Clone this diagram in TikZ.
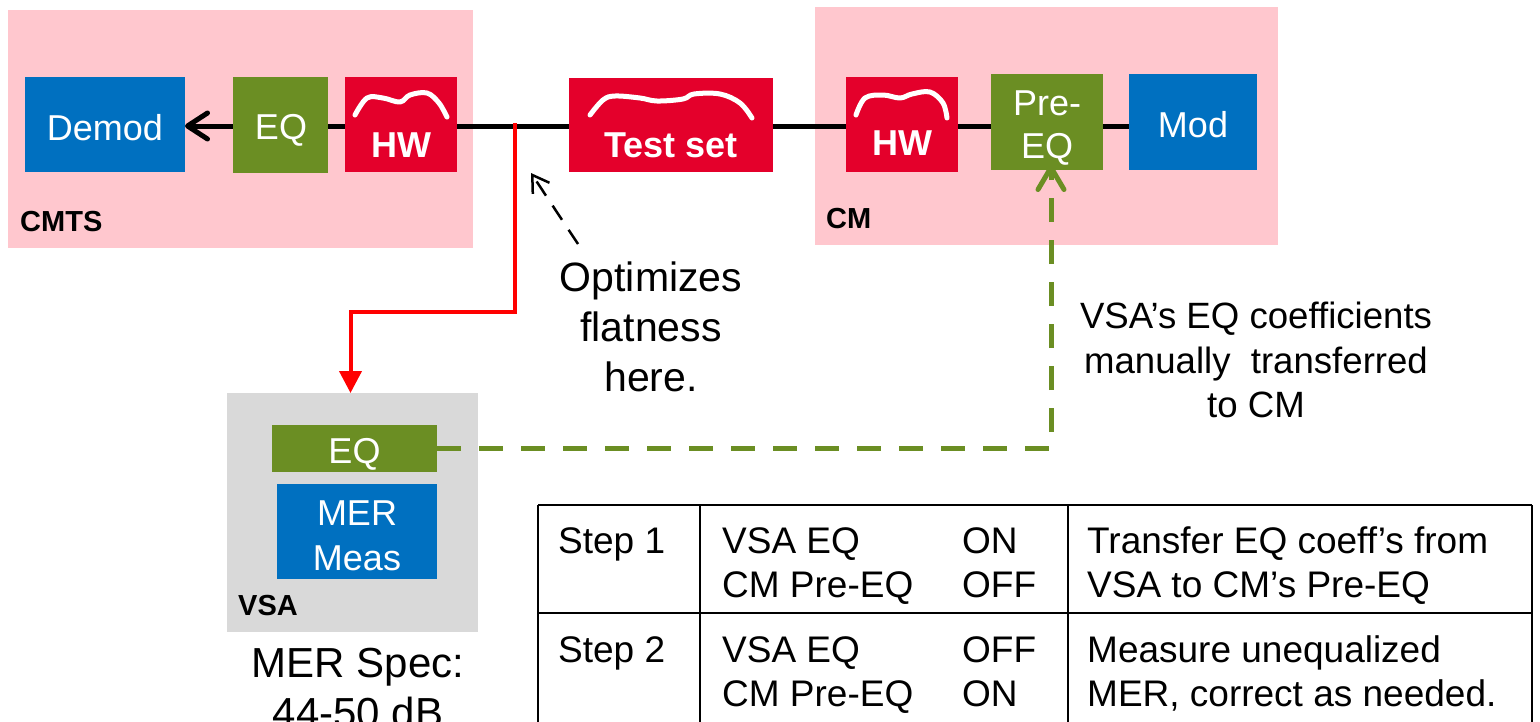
\documentclass[tikz,border=0pt]{standalone}
\usepackage{fontspec}
\setmainfont{Liberation Sans}
\usetikzlibrary{arrows.meta,calc}
\pgfdeclarelayer{zones}
\pgfdeclarelayer{wires}
\pgfsetlayers{zones,wires,main}
\definecolor{zonepink}{HTML}{FFC7CE}
\definecolor{blkblue}{HTML}{0070C0}
\definecolor{blkgreen}{HTML}{6B8E23}
\definecolor{blkred}{HTML}{E4002B}
\definecolor{vsagray}{HTML}{D9D9D9}
\definecolor{tapred}{HTML}{FF0000}
\newcommand{\boxfont}{\fontsize{36}{44}\selectfont}
\newcommand{\tabfont}{\fontsize{37}{44}\selectfont}
\begin{document}
\begin{tikzpicture}[x=1pt,y=-1pt,
  blk/.style={inner sep=0pt, outer sep=0pt, anchor=north west},
  blktext/.style={inner sep=0pt, anchor=base, text=white, font=\boxfont},
  zone/.style={inner sep=0pt, outer sep=0pt, anchor=north west},
  zonelabel/.style={inner sep=0pt, anchor=base west, font=\fontsize{29}{34}\selectfont\bfseries},
  hwlabel/.style={blktext, font=\boxfont\bfseries},
  squiggle/.style={white, line width=5pt, line cap=round, line join=round},
  mainwire/.style={line width=5pt, line cap=round},
  tapwire/.style={tapred, line width=4pt},
  xferwire/.style={blkgreen, line width=5pt, dash pattern=on 24pt off 18pt},
  notearrow/.style={line width=2.5pt, dash pattern=on 17pt off 12pt},
  note/.style={inner sep=0pt, align=center},
  tabtext/.style={inner sep=0pt, anchor=base west, font=\tabfont},
  grid/.style={line width=2pt}]
\useasboundingbox (0,0) rectangle (1540,721);

% equipment zones
\begin{pgfonlayer}{zones}
  \node[zone, fill=zonepink, minimum width=465pt, minimum height=238pt] (cmtszone) at (8,10) {};
  \node[zone, fill=zonepink, minimum width=463pt, minimum height=238pt] (cmzone) at (815,7) {};
  \node[zone, fill=vsagray, minimum width=251pt, minimum height=239pt] (vsa) at (227,393) {};
\end{pgfonlayer}
\node[zonelabel] (cmtslbl) at (20,231) {CMTS};
\node[zonelabel] (cmlbl) at (826,228) {CM};
\node[zonelabel] (vsalbl) at (238,615) {VSA};

% signal chain blocks
\node[blk, fill=blkblue, minimum width=160pt, minimum height=95pt] (demod) at (25,77) {};
\node[blk, fill=blkgreen, minimum width=95pt, minimum height=96pt] (eqa) at (233,77) {};
\node[blk, fill=blkred, minimum width=112pt, minimum height=95pt] (hwa) at (345,77) {};
\node[blk, fill=blkred, minimum width=204pt, minimum height=94pt] (testset) at (569,78) {};
\node[blk, fill=blkred, minimum width=112pt, minimum height=95pt] (hwb) at (846,77) {};
\node[blk, fill=blkgreen, minimum width=112pt, minimum height=96pt] (preeq) at (991,74) {};
\node[blk, fill=blkblue, minimum width=128pt, minimum height=96pt] (mod) at (1129,74) {};

\node[blktext] (demodtxt) at (105,140) {Demod};
\node[blktext] (eqatxt) at (281,139) {EQ};
\node[hwlabel] (hwatxt) at (401,157) {HW};
\node[hwlabel] (testtxt) at (671,157) {Test set};
\node[hwlabel] (hwbtxt) at (902,155) {HW};
\node[blktext] (preeqtxta) at (1047,115) {Pre-};
\node[blktext] (preeqtxtb) at (1047,158) {EQ};
\node[blktext] (modtxt) at (1193,137) {Mod};

% frequency response sketches
\draw[squiggle] plot[smooth, tension=0.6] coordinates {(355,115) (367,98) (383,98) (400,102) (410,95) (427,93) (439,103) (447,117)};
\draw[squiggle] plot[smooth, tension=0.6] coordinates {(590,115) (603,100) (615,96) (640,98) (657,101) (683,99) (694,94) (720,94) (740,103) (752,118)};
\draw[squiggle] plot[smooth, tension=0.6] coordinates {(856,115) (865,98) (883,95) (900,98) (912,94) (930,92) (943,103) (947,118)};

% VSA blocks
\node[blk, fill=blkgreen, minimum width=165pt, minimum height=47pt] (vsaeq) at (272,425) {};
\node[blk, fill=blkblue, minimum width=160pt, minimum height=95pt] (mer) at (277,484) {};
\node[blktext] (vsaeqtxt) at (354.5,463) {EQ};
\node[blktext] (mertxta) at (357,525) {MER};
\node[blktext] (mertxtb) at (357,570) {Meas};

% main signal path
\coordinate (tap) at (515,123);
\begin{pgfonlayer}{wires}
  \draw[mainwire, {Straight Barb[length=20pt,width=26pt,line cap=round,line join=round]}-] ([yshift=-1.5pt]demod.east) -- ([yshift=-1.5pt]demod.east -| mod.west);
\end{pgfonlayer}

% measurement tap to the VSA
\draw[tapwire, -{Triangle[length=22pt,width=22pt]}] (tap) -- ++(0,189) -| ([xshift=-2pt]vsa.north);

% coefficient transfer
\draw[xferwire, -{Straight Barb[length=22pt,width=26pt,line cap=round,line join=round]}] ([yshift=0.5pt]vsaeq.east) -| ([xshift=4pt,yshift=5pt]preeq.south);

% annotations
\coordinate (opttail) at (578,244);
\coordinate (opthead) at (531,173);
\draw[notearrow, -{Straight Barb[length=16pt,width=20pt]}] (opttail) -- (opthead);
\node[note, font=\fontsize{41}{50}\selectfont] (opt) at (651,327) {Optimizes\\flatness\\here.};
\node[note, font=\fontsize{36.6}{44.5}\selectfont] (xfernote) at (1256,360) {VSA’s EQ coefficients\\manually\ \ transferred\\to CM};
\node[note, font=\fontsize{42}{50}\selectfont, anchor=north] (spec) at (358,648) {MER Spec:\\44-50 dB};

% procedure table
\coordinate (tl) at (538,505);
\coordinate (tr) at (1532,505);
\draw[grid] (tl) -- (tr);
\draw[grid] (538,613) -- (1532,613);
\draw[grid] (tl) -- (538,725);
\draw[grid] (700,505) -- (700,725);
\draw[grid] (1068,505) -- (1068,725);
\draw[grid] (tr) -- (1532,725);

\node[tabtext] (s1) at (558,553) {Step 1};
\node[tabtext] (s1a) at (722,553) {VSA EQ};
\node[tabtext] (s1b) at (962,553) {ON};
\node[tabtext] (s1c) at (722,597) {CM Pre-EQ};
\node[tabtext] (s1d) at (962,597) {OFF};
\node[tabtext] (s1e) at (1087,553) {Transfer EQ coeff’s from};
\node[tabtext] (s1f) at (1087,597) {VSA to CM’s Pre-EQ};

\node[tabtext] (s2) at (558,662) {Step 2};
\node[tabtext] (s2a) at (722,662) {VSA EQ};
\node[tabtext] (s2b) at (962,662) {OFF};
\node[tabtext] (s2c) at (722,706) {CM Pre-EQ};
\node[tabtext] (s2d) at (962,706) {ON};
\node[tabtext] (s2e) at (1087,662) {Measure unequalized};
\node[tabtext] (s2f) at (1087,706) {MER, correct as needed.};
\end{tikzpicture}
\end{document}
